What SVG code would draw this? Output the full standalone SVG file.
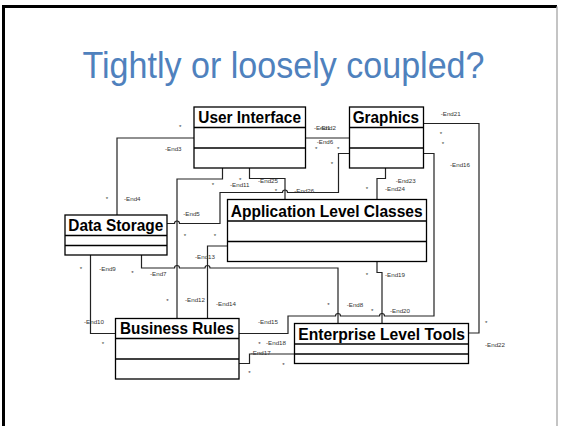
<svg xmlns="http://www.w3.org/2000/svg" width="565" height="426" viewBox="0 0 565 426">
<style>
.box{fill:#fff;stroke:#000;stroke-width:1.3}
.sep{stroke:#000;stroke-width:1.3}
.nt{font-family:"Liberation Sans",Arial,sans-serif;font-weight:bold;font-size:17px;fill:#000}
.c{fill:none;stroke:#222;stroke-width:1.2}
.l{font-family:"Liberation Sans",Arial,sans-serif;font-size:6.2px;fill:#333}
</style>
<rect x="0" y="0" width="565" height="426" fill="#fff"/>
<path d="M3.5,430 V6.5 H557" fill="none" stroke="#000" stroke-width="3"/>
<line x1="557" y1="6.5" x2="557" y2="430" stroke="#b0b0b0" stroke-width="1.5"/>
<text x="82.5" y="77.5" font-family="'Liberation Sans',Arial,sans-serif" font-size="37.5" fill="#4F81BD" textLength="402" lengthAdjust="spacingAndGlyphs">Tightly or loosely coupled?</text>

<g id="connectors">
<path class="c" d="M305.5,138 H349.5"/>
<path class="c" d="M194,138 H117 V215"/>
<path class="c" d="M222.5,168 V179 H177 V318.5"/>
<path class="c" d="M249.5,168 V178.5 H285 V199.5"/>
<path class="c" d="M167,223.5 H174.5 a2.5,2.5 0 0 1 5,0 H220 V192.5 H282.5 a2.5,2.5 0 0 1 5,0 H338.5 V153.5 H349.5"/>
<path class="c" d="M385.5,168 V178.5 H377 V199.5"/>
<path class="c" d="M423.5,123.5 H479 V333 H468.5"/>
<path class="c" d="M238.5,333.5 H288 V316 H335.5 a2.5,2.5 0 0 1 5,0 H379.5 a2.5,2.5 0 0 1 5,0 H434 V153.5 H423.5"/>
<path class="c" d="M141.5,255 V268 H174.5 a2.5,2.5 0 0 1 5,0 H205 a2.5,2.5 0 0 1 5,0 H338 V323.5"/>
<path class="c" d="M227.5,246 H207.5 V318.5"/>
<path class="c" d="M90.5,255 V333.5 H115.5"/>
<path class="c" d="M377,261.5 V272.5 H382 V323.5"/>
<path class="c" d="M238.5,363.5 H249.5 V354 H294.5"/>
</g>

<g id="user-interface">
<rect class="box" x="194" y="107" width="111.5" height="61"/>
<line class="sep" x1="194" y1="127.5" x2="305.5" y2="127.5"/>
<line class="sep" x1="194" y1="148" x2="305.5" y2="148"/>
<text class="nt" x="198.3" y="122.5" textLength="102.7" lengthAdjust="spacingAndGlyphs">User Interface</text>
</g>
<g id="graphics">
<rect class="box" x="349.5" y="107" width="74" height="61"/>
<line class="sep" x1="349.5" y1="127.5" x2="423.5" y2="127.5"/>
<line class="sep" x1="349.5" y1="148" x2="423.5" y2="148"/>
<text class="nt" x="352.7" y="122.5" textLength="66.3" lengthAdjust="spacingAndGlyphs">Graphics</text>
</g>
<g id="application-level-classes">
<rect class="box" x="227.5" y="199.5" width="199" height="62"/>
<line class="sep" x1="227.5" y1="221" x2="426.5" y2="221"/>
<line class="sep" x1="227.5" y1="241.5" x2="426.5" y2="241.5"/>
<text class="nt" x="230.7" y="216.5" textLength="192" lengthAdjust="spacingAndGlyphs">Application Level Classes</text>
</g>
<g id="data-storage">
<rect class="box" x="65" y="215" width="102" height="40"/>
<line class="sep" x1="65" y1="235.5" x2="167" y2="235.5"/>
<line class="sep" x1="65" y1="245.5" x2="167" y2="245.5"/>
<text class="nt" x="68.3" y="230.5" textLength="95" lengthAdjust="spacingAndGlyphs">Data Storage</text>
</g>
<g id="business-rules">
<rect class="box" x="115.5" y="318.5" width="123.5" height="60.5"/>
<line class="sep" x1="115.5" y1="338.5" x2="239" y2="338.5"/>
<line class="sep" x1="115.5" y1="359" x2="239" y2="359"/>
<text class="nt" x="120" y="333.5" textLength="114" lengthAdjust="spacingAndGlyphs">Business Rules</text>
</g>
<g id="enterprise-level-tools">
<rect class="box" x="294.5" y="323.5" width="174" height="40"/>
<line class="sep" x1="294.5" y1="344" x2="468.5" y2="344"/>
<line class="sep" x1="294.5" y1="354" x2="468.5" y2="354"/>
<text class="nt" x="298.3" y="339.5" textLength="166.7" lengthAdjust="spacingAndGlyphs">Enterprise Level Tools</text>
</g>

<g id="labels">
<text class="l" x="314" y="129.5">-End1</text>
<text class="l" x="319.4" y="129.5">-End2</text>
<text class="l" x="316.7" y="144">-End6</text>
<text class="l" x="315" y="150.8">*</text>
<text class="l" x="337" y="150.8">*</text>
<text class="l" x="330.7" y="166.2">*</text>
<text class="l" x="179" y="129.2">*</text>
<text class="l" x="165" y="150.7">-End3</text>
<text class="l" x="105.7" y="200.8">*</text>
<text class="l" x="124" y="201.4">-End4</text>
<text class="l" x="211.7" y="186.8">*</text>
<text class="l" x="230" y="187.4">-End11</text>
<text class="l" x="239" y="181.5">*</text>
<text class="l" x="258" y="183.4">-End25</text>
<text class="l" x="274.7" y="192.8">*</text>
<text class="l" x="294.3" y="193.4">-End26</text>
<text class="l" x="183.3" y="215.9">-End5</text>
<text class="l" x="183.7" y="237.8">*</text>
<text class="l" x="213.7" y="237.8">*</text>
<text class="l" x="195" y="259.1">-End13</text>
<text class="l" x="79.7" y="270.8">*</text>
<text class="l" x="99.3" y="271.4">-End9</text>
<text class="l" x="131.3" y="275.2">*</text>
<text class="l" x="150" y="275.7">-End7</text>
<text class="l" x="166.3" y="302.5">*</text>
<text class="l" x="185" y="302.4">-End12</text>
<text class="l" x="216" y="305.7">-End14</text>
<text class="l" x="327.3" y="307">*</text>
<text class="l" x="346.7" y="306.9">-End8</text>
<text class="l" x="365.7" y="276.8">*</text>
<text class="l" x="385" y="276.7">-End19</text>
<text class="l" x="371" y="312.8">*</text>
<text class="l" x="390" y="313.1">-End20</text>
<text class="l" x="84" y="324.1">-End10</text>
<text class="l" x="101.7" y="345.8">*</text>
<text class="l" x="258" y="324.1">-End15</text>
<text class="l" x="258.3" y="345.8">*</text>
<text class="l" x="266" y="344.7">-End18</text>
<text class="l" x="250.7" y="354.7">-End17</text>
<text class="l" x="282.3" y="366.8">*</text>
<text class="l" x="248.3" y="375.2">*</text>
<text class="l" x="395.7" y="183.1">-End23</text>
<text class="l" x="385" y="191.4">-End24</text>
<text class="l" x="365.7" y="191.2">*</text>
<text class="l" x="440.7" y="115.7">-End21</text>
<text class="l" x="439.7" y="135.8">*</text>
<text class="l" x="441.7" y="145.8">*</text>
<text class="l" x="450" y="167.4">-End16</text>
<text class="l" x="485" y="324.5">*</text>
<text class="l" x="485" y="346.7">-End22</text>
</g>
</svg>
